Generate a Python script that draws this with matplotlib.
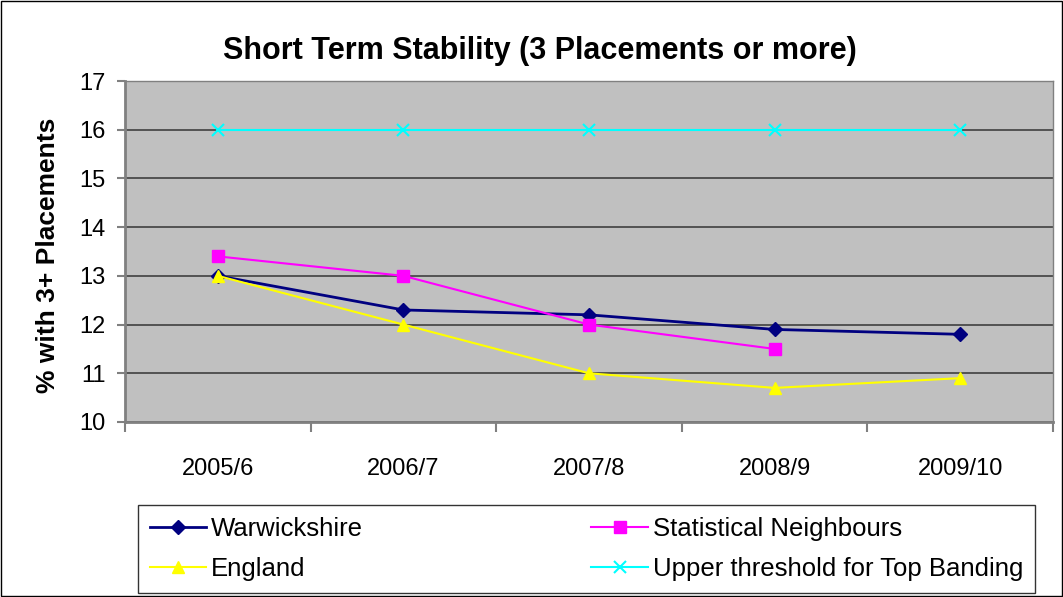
import matplotlib
matplotlib.use('Agg')
from matplotlib import pyplot as plt

plt.rcParams['font.family'] = ['Liberation Sans', 'DejaVu Sans']

years = ['2005/6', '2006/7', '2007/8', '2008/9', '2009/10']
warwickshire = [13.0, 12.3, 12.2, 11.9, 11.8]
stat_neighbours = [13.4, 13.0, 12.0, 11.5]
england = [13.0, 12.0, 11.0, 10.7, 10.9]
upper_threshold = [16, 16, 16, 16, 16]

fig = plt.figure(figsize=(10.63, 5.97), dpi=100)
ax = fig.add_axes([125 / 1063, 1 - 422 / 597, 928 / 1063, 341 / 597])
ax.set_facecolor('#c0c0c0')

x = list(range(len(years)))
h1, = ax.plot(x, warwickshire, color='#000080', marker='D', markersize=7,
              linewidth=2, label='Warwickshire')
h2, = ax.plot(x[:len(stat_neighbours)], stat_neighbours, color='#ff00ff', marker='s',
              markersize=8, linewidth=1.5, label='Statistical Neighbours')
h3, = ax.plot(x, england, color='#ffff00', marker='^', markersize=9,
              linewidth=1.5, label='England')
h4, = ax.plot(x, upper_threshold, color='#00ffff', marker='x', markersize=8,
              markeredgewidth=1.5, linewidth=1.5, label='Upper threshold for Top Banding')

ax.set_xlim(-0.5, len(years) - 0.5)
ax.set_ylim(10, 17)
ax.set_yticks(range(10, 18))
ax.set_xticks([i - 0.5 for i in range(len(years) + 1)])
ax.set_xticklabels([])
ax.set_xticks(x, minor=True)
ax.set_xticklabels(years, minor=True)
ax.tick_params(axis='x', which='minor', length=0, labelsize=17, pad=26)
ax.tick_params(axis='x', which='major', length=7, width=1.5, color='#808080')
ax.tick_params(axis='y', length=6, width=1.5, color='#808080', labelsize=17, pad=8)
ax.grid(axis='y', color='#404040', linewidth=1.2)
ax.set_axisbelow(True)
for side in ['left', 'bottom']:
    ax.spines[side].set_color('#808080')
    ax.spines[side].set_linewidth(2)
for side in ['top', 'right']:
    ax.spines[side].set_color('#808080')
    ax.spines[side].set_linewidth(1)

fig.text(540 / 1063, 1 - 51 / 597, 'Short Term Stability (3 Placements or more)',
         fontsize=22, fontweight='bold', ha='center', va='center')
fig.text(48 / 1063, 1 - 255 / 597, '% with 3+ Placements', fontsize=19,
         fontweight='bold', rotation=90, ha='center', va='center')

# matplotlib fills legend columns first, so order handles column by column
leg = fig.legend([h1, h3, h2, h4],
                 ['Warwickshire', 'England', 'Statistical Neighbours',
                  'Upper threshold for Top Banding'],
                 loc='lower left', bbox_to_anchor=(138 / 1063, 4 / 597, 897 / 1063, 90 / 597),
                 mode='expand', ncol=2, fontsize=18.5, frameon=True, fancybox=False,
                 edgecolor='black', handlelength=2.2, handletextpad=0.2,
                 borderaxespad=0, borderpad=0.45, labelspacing=0.65, markerscale=1.0)
leg.get_frame().set_linewidth(1)

fig.patches.append(plt.Rectangle((0.001, 0.001), 0.998, 0.998, transform=fig.transFigure,
                                 fill=False, edgecolor='black', linewidth=1))

fig.savefig('out.png', dpi=100)
